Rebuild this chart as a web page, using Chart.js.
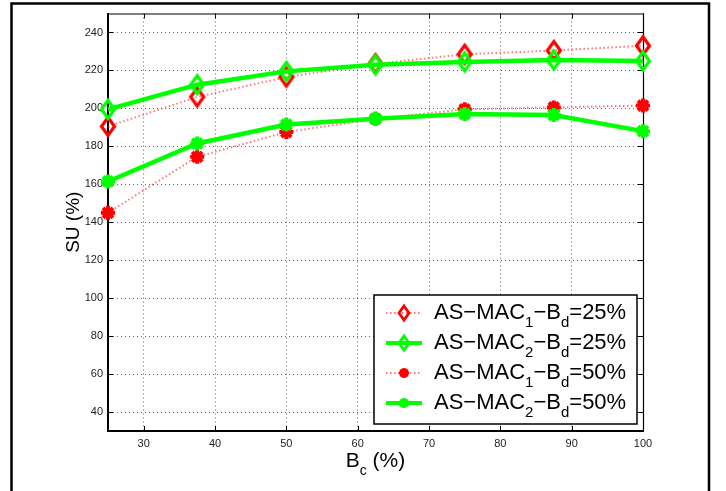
<!DOCTYPE html>
<html>
<head>
<meta charset="utf-8">
<script src="https://cdn.jsdelivr.net/npm/chart.js@4.4.1/dist/chart.umd.min.js"></script>
<style>
  html, body { margin: 0; padding: 0; background: #fff; }
</style>
</head>
<body>
<canvas id="suChart" width="726" height="491"></canvas>
<script>
// values
const bcValues = [25, 37.5, 50, 62.5, 75, 87.5, 100];
const mac1Bd25 = [190.5, 206, 216.5, 223.5, 228.5, 230.5, 233];
const mac2Bd25 = [199.5, 212.5, 219.5, 223, 224.5, 225.5, 225];
const mac1Bd50 = [145, 174.5, 187.5, 194.5, 199.5, 200.5, 201.5];
const mac2Bd50 = [161.5, 181.5, 191.5, 194.5, 197, 196.5, 188];
const xTickValues = [30, 40, 50, 60, 70, 80, 90, 100];
const yTickValues = [40, 60, 80, 100, 120, 140, 160, 180, 200, 220, 240];
// "_x" = subscript x
const legendNames = ['AS−MAC_1−B_d=25%', 'AS−MAC_2−B_d=25%', 'AS−MAC_1−B_d=50%', 'AS−MAC_2−B_d=50%'];

const FONT = '"Liberation Sans", Arial, Helvetica, sans-serif';
const RED = '#ff0000';
const GREEN = '#00ff00';
const RED_LINE = 'rgba(255,30,30,0.6)';

function diamondMarker(color, w, h, lw) {
  const c = document.createElement('canvas');
  c.width = Math.ceil(w + lw * 4);
  c.height = Math.ceil(h + lw * 4);
  const g = c.getContext('2d');
  const cx = c.width / 2, cy = c.height / 2;
  g.strokeStyle = color;
  g.lineWidth = lw;
  g.beginPath();
  g.moveTo(cx, cy - h / 2);
  g.lineTo(cx + w / 2, cy);
  g.lineTo(cx, cy + h / 2);
  g.lineTo(cx - w / 2, cy);
  g.closePath();
  g.stroke();
  return c;
}

const redDiamond = diamondMarker(RED, 13, 18, 3.2);
const greenDiamond = diamondMarker(GREEN, 13, 18, 3.2);
const redDiamondSmall = diamondMarker(RED, 10, 14, 2.8);
const greenDiamondSmall = diamondMarker(GREEN, 10, 14, 2.8);

function pts(arr) {
  return bcValues.map((x, i) => ({ x: x, y: arr[i] }));
}

// splits 'AS−MAC_1' into normal / subscript pieces
function richParts(str) {
  const parts = [];
  let buf = '';
  for (let i = 0; i < str.length; i++) {
    if (str[i] === '_' && i + 1 < str.length) {
      if (buf) parts.push({ t: buf, sub: false });
      buf = '';
      parts.push({ t: str[i + 1], sub: true });
      i++;
    } else {
      buf += str[i];
    }
  }
  if (buf) parts.push({ t: buf, sub: false });
  return parts;
}

function drawRich(ctx, str, x, baseline, size, subSize, subDrop, measureOnly) {
  const parts = richParts(str);
  let cx = x;
  parts.forEach(p => {
    ctx.font = (p.sub ? subSize : size) + 'px ' + FONT;
    const w = ctx.measureText(p.t).width;
    if (!measureOnly) ctx.fillText(p.t, cx, p.sub ? baseline + subDrop : baseline);
    cx += w;
  });
  return cx - x;
}

const legendStyles = [
  { color: RED_LINE, width: 2, dash: [1.5, 2.5], marker: redDiamondSmall },
  { color: GREEN, width: 4, dash: [], marker: greenDiamondSmall },
  { color: RED_LINE, width: 2, dash: [1.5, 2.5], star: RED },
  { color: GREEN, width: 4, dash: [], star: GREEN }
];

const figurePlugin = {
  id: 'figureExtras',
  beforeDatasetsDraw(chart) {
    const { ctx, chartArea: a, scales: { x, y } } = chart;
    ctx.save();
    ctx.strokeStyle = '#000';
    ctx.lineWidth = 1;
    ctx.beginPath();
    xTickValues.forEach(v => {
      const px = Math.round(x.getPixelForValue(v)) + 0.5;
      ctx.moveTo(px, a.bottom); ctx.lineTo(px, a.bottom - 5);
      ctx.moveTo(px, a.top); ctx.lineTo(px, a.top + 5);
    });
    yTickValues.forEach(v => {
      const py = Math.round(y.getPixelForValue(v)) + 0.5;
      ctx.moveTo(a.left, py); ctx.lineTo(a.left + 5, py);
      ctx.moveTo(a.right, py); ctx.lineTo(a.right - 5, py);
    });
    ctx.stroke();
    ctx.lineWidth = 1.2;
    ctx.beginPath();
    ctx.moveTo(a.left, a.top + 0.5);
    ctx.lineTo(a.right + 0.5, a.top + 0.5);
    ctx.lineTo(a.right + 0.5, a.bottom);
    ctx.stroke();
    ctx.restore();
  },
  afterDraw(chart) {
    const { ctx, chartArea: a } = chart;
    ctx.save();

    // x axis title  B_c (%)
    ctx.fillStyle = '#000';
    ctx.textBaseline = 'alphabetic';
    const xt = 'B_c (%)';
    const wT = drawRich(ctx, xt, 0, 0, 21, 14, 8, true);
    drawRich(ctx, xt, (a.left + a.right) / 2 - wT / 2, 467, 21, 14, 8, false);

    // legend
    const lx = 374, ly = 295, lw = 263, lh = 129;
    ctx.fillStyle = '#fff';
    ctx.fillRect(lx, ly, lw, lh);
    ctx.strokeStyle = '#000';
    ctx.lineWidth = 1.5;
    ctx.strokeRect(lx, ly, lw, lh);
    legendNames.forEach((name, i) => {
      const st = legendStyles[i];
      const base = 319 + i * 30;
      const my = base - 6;
      ctx.save();
      ctx.strokeStyle = st.color;
      ctx.lineWidth = st.width;
      ctx.setLineDash(st.dash);
      ctx.beginPath();
      ctx.moveTo(386, my); ctx.lineTo(422, my);
      ctx.stroke();
      ctx.restore();
      if (st.marker) {
        ctx.drawImage(st.marker, 404 - st.marker.width / 2, my - st.marker.height / 2);
      } else {
        ctx.save();
        ctx.strokeStyle = st.star;
        ctx.fillStyle = st.star;
        ctx.lineWidth = 3;
        Chart.helpers.drawPoint(ctx, { pointStyle: 'star', radius: 5, borderWidth: 3, rotation: 0 }, 404, my);
        ctx.beginPath();
        ctx.arc(404, my, 4.5, 0, Math.PI * 2);
        ctx.fill();
        ctx.restore();
      }
      ctx.fillStyle = '#000';
      drawRich(ctx, name, 434, base, 22, 15, 8, false);
    });

    // outer figure frame
    ctx.strokeStyle = '#000';
    ctx.lineWidth = 2.5;
    ctx.strokeRect(11.5, 3.5, 697.5, 520);
    ctx.restore();
  }
};

const ctx = document.getElementById('suChart').getContext('2d');
const suChart = new Chart(ctx, {
  type: 'line',
  data: {
    datasets: [
      {
        label: 'AS-MAC1-Bd=25%', data: pts(mac1Bd25), order: 2,
        borderColor: RED_LINE, borderWidth: 2, borderDash: [1.5, 2.5],
        pointStyle: redDiamond, pointRadius: 9, clip: false
      },
      {
        label: 'AS-MAC2-Bd=25%', data: pts(mac2Bd25), order: 1,
        borderColor: GREEN, borderWidth: 4.5,
        pointStyle: greenDiamond, pointRadius: 9, clip: false
      },
      {
        label: 'AS-MAC1-Bd=50%', data: pts(mac1Bd50), order: 2,
        borderColor: RED_LINE, borderWidth: 2, borderDash: [1.5, 2.5],
        pointStyle: 'star', pointRadius: 7, pointBorderWidth: 4,
        pointBorderColor: RED, pointBackgroundColor: RED, clip: false
      },
      {
        label: 'AS-MAC2-Bd=50%', data: pts(mac2Bd50), order: 1,
        borderColor: GREEN, borderWidth: 4.5,
        pointStyle: 'star', pointRadius: 7, pointBorderWidth: 4,
        pointBorderColor: GREEN, pointBackgroundColor: GREEN, clip: false
      }
    ]
  },
  options: {
    responsive: false,
    animation: false,
    devicePixelRatio: 1,
    layout: { padding: { left: 0, right: 83, top: 8, bottom: 0 } },
    elements: { line: { tension: 0, fill: false } },
    plugins: { legend: { display: false }, tooltip: { enabled: false } },
    scales: {
      x: {
        type: 'linear', min: 25, max: 100,
        afterBuildTicks: s => { s.ticks = xTickValues.map(v => ({ value: v })); },
        afterFit: s => { s.height = 60; },
        grid: { color: 'rgba(0,0,0,0.6)', lineWidth: 1, drawTicks: false },
        border: { display: true, color: '#000', width: 2, dash: [1, 3] },
        ticks: { color: '#222', font: { family: FONT, size: 11 }, padding: 6, maxRotation: 0, autoSkip: false }
      },
      y: {
        type: 'linear', min: 30, max: 250,
        afterBuildTicks: s => { s.ticks = yTickValues.map(v => ({ value: v })); },
        afterFit: s => { s.width = 108; },
        grid: { color: 'rgba(0,0,0,0.6)', lineWidth: 1, drawTicks: false },
        border: { display: true, color: '#000', width: 2, dash: [1, 3] },
        ticks: { color: '#222', font: { family: FONT, size: 11 }, padding: 5, autoSkip: false },
        title: { display: true, text: 'SU (%)', color: '#000', font: { family: FONT, size: 19 }, padding: { top: 62, bottom: 0 } }
      }
    }
  },
  plugins: [figurePlugin]
});
</script>
</body>
</html>
